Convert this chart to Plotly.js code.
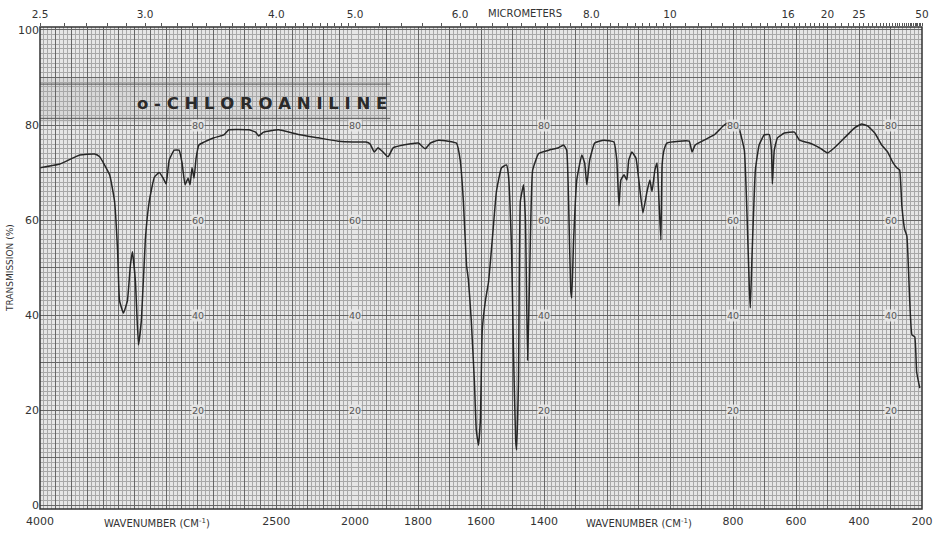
<!DOCTYPE html>
<html><head><meta charset="utf-8">
<script src="https://cdn.plot.ly/plotly-3.0.1.min.js"></script>
<style>html,body{margin:0;padding:0;background:#fff;}#chart{width:933px;height:535px;}</style>
</head><body><div id="chart"></div>
<script>
// Spectrum of o-chloroaniline: wavenumber (cm-1) and transmission (%)
const wavenumber = [4000,3874,3748,3653,3621,3558,3527,3508,3495,3470,3445,3426,3413,3394,3375,3356,3331,3306,3274,3243,3218,3199,3180,3148,3117,3098,3079,3060,3047,3035,3022,3009,2991,2959,2896,2833,2801,2675,2631,2612,2580,2486,2360,2233,2107,2013,2000,
1990,1965,1952,1939,1927,1911,1895,1879,1847,1799,1777,1761,1736,1704,1678,1666,1656,1646,1640,1631,1621,1615,1608,1602,1596,1586,1576,1564,1551,1535,1519,1513,1503,1497,1490,1487,1481,1475,1465,1459,1452,1446,1436,1417,1385,1354,1338,1328,1322,1315,1312,1306,1296,1280,1271,1264,1255,1239,1210,1178,1169,1162,1156,1146,1137,1131,1121,1108,1099,1086,1073,1064,1057,1048,1041,1035,1029,1025,1019,1010,971,939,930,920,892,860,828,812,796,780,764,755,748,745,739,729,717,701,685,678,675,669,659,637,605,589,557,525,500,478,446,414,392,373,350,328,309,293,280,271,264,255,248,239,232,223,217,207];
const transmission = [71,71.8,73.7,73.9,73.3,69.5,64,54,43,40.4,43,50.5,53.3,47,33.7,39,56,64,69,70,68.8,67.6,72.6,74.7,74.7,72,67.4,68.8,67.4,71,68.8,73,75.8,76.4,77.3,77.9,79,79,78.5,77.7,78.5,79,78,77.3,76.6,76.4,76.4,
76.4,76.4,76,74.3,75.2,74.3,73.3,75.2,75.8,76.2,75,76.2,76.8,76.6,76.2,72.6,64,50.5,47.4,39,26,15.8,12.6,17.9,36.8,43,47,56,66,71,71.6,69.5,53.7,32.6,13.7,11.6,26,64,67.4,60,30.5,47,70.5,74,74.7,75.2,75.8,74.7,64,45,43.6,55.8,68.4,73.7,72,67.4,72.6,76.2,76.8,76.4,72.6,63,68.4,69.5,68.4,72.6,74.3,73,68.4,61.5,66,68.4,66,70.5,72,64,55.8,71.6,74.7,76.2,76.6,76.6,74.3,75.8,76.8,77.9,80,80.6,80,79,74.7,60,45.3,41.5,53.7,70.5,75.8,77.9,78,74.7,67.6,74.7,77.3,78.3,78.5,76.8,76.2,75.2,74.1,75.2,77.3,79.4,80.2,79.8,78.3,75.8,74.3,72.2,71,70.5,63,58,56.6,43,35.8,35.4,28,24.6];

// Axis labels
const bottomTicksHigh = [4000, 2500];
const bottomTicksLow = [2000, 1800, 1600, 1400, 800, 600, 400, 200];
const micronLabelsHigh = [2.5, 3.0, 4.0, 5.0];
const micronLabelsLow = [6.0, 8.0, 10, 16, 20, 25, 50];
const yLabelValues = [0, 20, 40, 60, 80, 100];
const innerLabelWn = [3000, 2000, 1400, 800, 300];
const innerLabelT = [80, 60, 40, 20];

// y ticks every 10 (grid), labelled every 20
const yTickVals = [], yTickText = [];
for (let v = 0; v <= 100; v += 10) { yTickVals.push(v); yTickText.push(yLabelValues.includes(v) ? String(v) : ' '); }

// micrometer tick lists
const micronMinorHigh = [];
for (let m = 2.5; m <= 5.0001; m += 0.1) micronMinorHigh.push(+m.toFixed(2));
const micronMinorLow = [];
for (let m = 5.2; m <= 10.0001; m += 0.2) micronMinorLow.push(+m.toFixed(2));
for (let m = 10.5; m <= 20.0001; m += 0.5) micronMinorLow.push(+m.toFixed(2));
for (let m = 21; m <= 50; m += 1) micronMinorLow.push(m);

function fmtMicron(m){ return (m < 10) ? m.toFixed(1) : String(m); }
function micronAxis(minor, labeled, range, overlay){
  const vals = minor.map(m => 1e4 / m);
  const txt = minor.map(m => labeled.some(l => Math.abs(l - m) < 1e-6) ? fmtMicron(m) : ' ');
  return {overlaying: overlay, side: 'top', anchor: 'y', range: range, tickmode: 'array',
    tickvals: vals, ticktext: txt, ticks: 'outside', ticklen: 3, tickcolor: '#555', tickwidth: 1, tickangle: 0,
    showgrid: false, zeroline: false, showline: false, ticklabelstandoff: 1,
    tickfont: {family: 'DejaVu Sans', size: 10.5, color: '#333'}};
}

const split = 5600;
const dom1 = 2000 / split;

const hi = wavenumber.map((w,i)=>i).filter(i => wavenumber[i] >= 2000);
const lo = wavenumber.map((w,i)=>i).filter(i => wavenumber[i] <= 2000);

const lineStyle = {color: '#262626', width: 1.5, shape: 'spline', smoothing: 0.35};
const traces = [
  {x: hi.map(i=>wavenumber[i]), y: hi.map(i=>transmission[i]), xaxis: 'x', yaxis: 'y', mode: 'lines', line: lineStyle, hoverinfo: 'skip'},
  {x: lo.map(i=>wavenumber[i]), y: lo.map(i=>transmission[i]), xaxis: 'x2', yaxis: 'y', mode: 'lines', line: lineStyle, hoverinfo: 'skip'}
];

const gridMajor = '#666666', gridMinor = '#a8a8a8';
const tf = {family: 'DejaVu Sans', size: 11, color: '#333'};

const annotations = [];
innerLabelWn.forEach(w => innerLabelT.forEach(t => {
  annotations.push({x: w, y: t, xref: w > 2000 ? 'x' : 'x2', yref: 'y', xanchor: 'center', yanchor: 'middle', text: String(t), showarrow: false,
    font: {family: 'DejaVu Sans', size: 9.5, color: '#555'}, bgcolor: 'rgba(232,232,232,0.85)', borderpad: 0});
}));
annotations.push({x: (262-40)/882, y: 84.6, xref: 'paper', yref: 'y', xanchor: 'center', yanchor: 'middle', text: 'o - C H L O R O A N I L I N E', showarrow: false,
  font: {family: 'DejaVu Sans', size: 16.5, color: '#2a2a2a', weight: 'bold'}});
annotations.push({x: (10-40)/882, y: 0.5, xref: 'paper', yref: 'paper', xanchor: 'center', yanchor: 'middle', text: 'TRANSMISSION (%)', textangle: -90, showarrow: false,
  font: {family: 'DejaVu Sans', size: 9, color: '#333'}});
[157, 639].forEach(px => annotations.push({x: (px-40)/882, y: -14/482, xref: 'paper', yref: 'paper', xanchor: 'center', yanchor: 'middle',
  text: 'WAVENUMBER (CM<sup>-1</sup>)', showarrow: false, font: {family: 'DejaVu Sans', size: 10, color: '#333'}}));
annotations.push({x: (525-40)/882, y: 1 + 14/482, xref: 'paper', yref: 'paper', xanchor: 'center', yanchor: 'middle',
  text: 'MICROMETERS', showarrow: false, font: {family: 'DejaVu Sans', size: 10, color: '#333'}});

const layout = {
  width: 933, height: 535,
  margin: {l: 40, r: 11, t: 27, b: 26},
  paper_bgcolor: '#ffffff', plot_bgcolor: '#e6e6e6',
  showlegend: false,
  xaxis: {domain: [0, dom1], range: [4000, 2000], anchor: 'y', dtick: 100, tick0: 0, showgrid: true, gridcolor: gridMajor, gridwidth: 1,
    minor: {dtick: 25, showgrid: true, gridcolor: gridMinor, gridwidth: 1}, showticklabels: false, ticks: '', zeroline: false, showline: false},
  xaxis2: {domain: [dom1, 1], range: [2000, 200], anchor: 'y', dtick: 100, tick0: 0, showgrid: true, gridcolor: gridMajor, gridwidth: 1,
    minor: {dtick: 12.5, showgrid: true, gridcolor: gridMinor, gridwidth: 1}, showticklabels: false, ticks: '', zeroline: false, showline: false},
  xaxis3: {overlaying: 'x', anchor: 'y', range: [4000, 2000], tickmode: 'array', tickvals: bottomTicksHigh, ticktext: bottomTicksHigh.map(String),
    showgrid: false, zeroline: false, ticks: '', tickfont: tf, side: 'bottom', tickangle: 0, ticklabelstandoff: 4},
  xaxis4: {overlaying: 'x2', anchor: 'y', range: [2000, 200], tickmode: 'array', tickvals: bottomTicksLow, ticktext: bottomTicksLow.map(String),
    showgrid: false, zeroline: false, ticks: '', tickfont: tf, side: 'bottom', tickangle: 0, ticklabelstandoff: 4},
  xaxis5: micronAxis(micronMinorHigh, micronLabelsHigh, [4000, 2000], 'x'),
  xaxis6: micronAxis(micronMinorLow, micronLabelsLow, [2000, 200], 'x2'),
  yaxis: {range: [-0.84, 100.63], anchor: 'x', tickmode: 'array', tickvals: yTickVals, ticktext: yTickText,
    showgrid: true, gridcolor: gridMajor, gridwidth: 1, zeroline: false, showline: false, ticks: '', tickfont: tf,
    minor: {dtick: 1, showgrid: true, gridcolor: gridMinor, gridwidth: 1}},
  shapes: [
    {type: 'rect', xref: 'paper', yref: 'y', x0: 0, x1: 350/882, y0: 80.5, y1: 90, fillcolor: 'rgba(0,0,0,0.06)', line: {width: 0}, layer: 'below'},
    {type: 'line', xref: 'paper', yref: 'y', x0: 0, x1: 350/882, y0: 88.6, y1: 88.6, line: {color: '#555', width: 1}},
    {type: 'line', xref: 'paper', yref: 'y', x0: 0, x1: 350/882, y0: 81.4, y1: 81.4, line: {color: '#555', width: 1}},
    {type: 'rect', xref: 'paper', yref: 'paper', x0: 0, x1: 1, y0: 0, y1: 1, line: {color: '#333', width: 1.5}, fillcolor: 'rgba(0,0,0,0)'}
  ],
  annotations: annotations
};

traces.push({x: [4000], y: [null], xaxis: 'x3', yaxis: 'y', mode: 'lines', hoverinfo: 'skip'});
traces.push({x: [2000], y: [null], xaxis: 'x4', yaxis: 'y', mode: 'lines', hoverinfo: 'skip'});
traces.push({x: [4000], y: [null], xaxis: 'x5', yaxis: 'y', mode: 'lines', hoverinfo: 'skip'});
traces.push({x: [2000], y: [null], xaxis: 'x6', yaxis: 'y', mode: 'lines', hoverinfo: 'skip'});

Plotly.newPlot('chart', traces, layout, {displayModeBar: false, staticPlot: true});
</script></body></html>
